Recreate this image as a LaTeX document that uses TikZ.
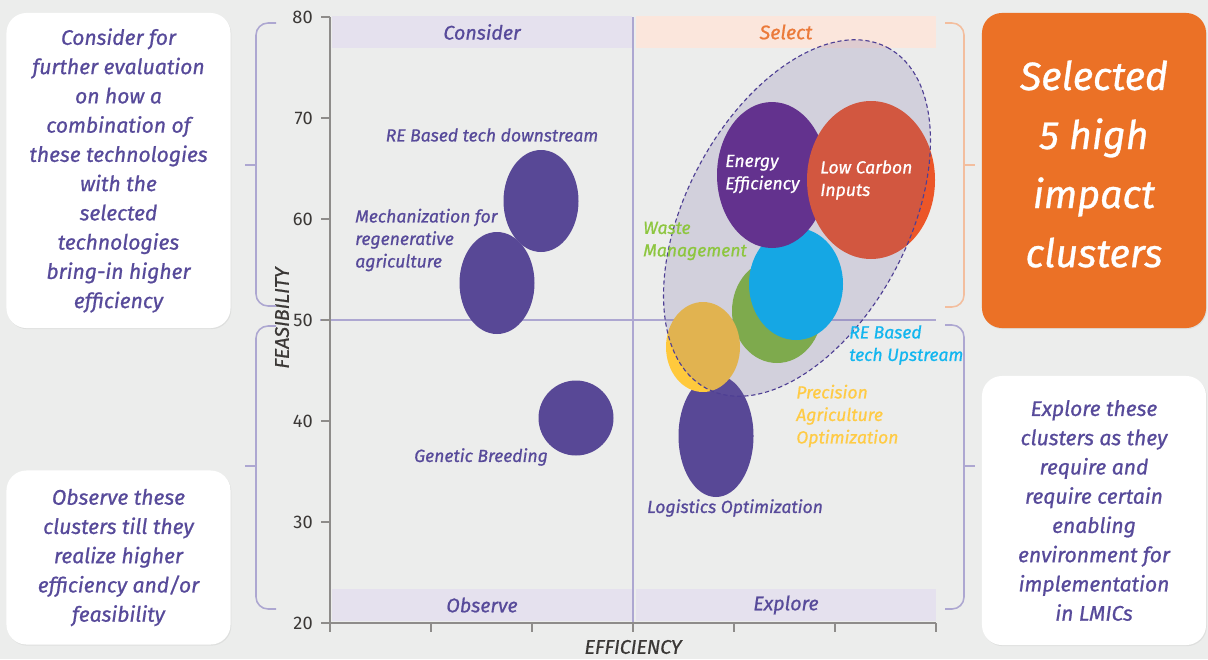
\documentclass[tikz,border=0pt]{standalone}
\usepackage{fontspec}
\setmainfont{Fira Sans}[ItalicFeatures={FakeBold=0.8}]
\usetikzlibrary{positioning, shadows}

\definecolor{bgGrey}{HTML}{ECEDEC}
\definecolor{txtPurple}{HTML}{574A9A}
\definecolor{bandLilac}{HTML}{E5E1EE}
\definecolor{bandPeach}{HTML}{FBE6DC}
\definecolor{axisGrey}{HTML}{8E8C8A}
\definecolor{midLilac}{HTML}{ADA7D1}
\definecolor{brOrange}{HTML}{F3BE9E}
\definecolor{boxOrange}{HTML}{EB7126}
\definecolor{selOrange}{HTML}{EB7A3A}
\definecolor{bubPurple}{HTML}{584896}
\definecolor{enPurple}{HTML}{62278A}
\definecolor{lcRed}{HTML}{EC5628}
\definecolor{reBlue}{HTML}{00BAF5}
\definecolor{wmGreen}{HTML}{84BD39}
\definecolor{paYellow}{HTML}{FFC93C}
\definecolor{labCyan}{HTML}{13B6EF}
\definecolor{labGreen}{HTML}{8DC63F}
\definecolor{labYellow}{HTML}{FFCB45}
\definecolor{ovLilac}{HTML}{6A5FA0}
\definecolor{dashPurple}{HTML}{4E3F94}
\definecolor{tickGrey}{HTML}{3B3836}

\begin{document}
\begin{tikzpicture}[x=0.025cm, y=-0.025cm,
    notebox/.style={fill=white, rounded corners=0.5cm, inner sep=0pt, align=center,
      minimum width=5.6cm, text=txtPurple, font=\fontsize{15}{20.8}\selectfont\itshape,
      drop shadow={shadow xshift=0.6pt, shadow yshift=-0.8pt, opacity=0.12}},
    band/.style={inner sep=0pt, minimum width=7.5cm, minimum height=0.78cm,
      font=\fontsize{14}{16}\selectfont\itshape},
    bublab/.style={inner sep=0pt, align=left, font=\fontsize{12.5}{16}\selectfont\itshape},
    ticklab/.style={anchor=east, inner sep=0pt, text=tickGrey, font=\fontsize{13}{15}\selectfont},
    axlab/.style={inner sep=0pt, text=tickGrey, font=\fontsize{14}{16}\selectfont\itshape},
    bracket/.style={line width=1.1pt, rounded corners=0.3cm}]

  \fill[bgGrey] (0,0) rectangle (1208,659);
  \useasboundingbox (0,0) rectangle (1208,659);

  % quadrant bands
  \node[band, fill=bandLilac, text=txtPurple] (consider) at (482,32) {Consider};
  \node[band, fill=bandPeach, text=selOrange] (select) at (786,32) {Select};
  \node[band, fill=bandLilac, text=txtPurple] (observe) at (482,605) {Observe};
  \node[band, fill=bandLilac, text=txtPurple] (explore) at (786,605) {Explore};

  % quadrant lines
  \draw[midLilac, line width=1.1pt] (633,17) -- (633,632);
  \draw[midLilac, line width=1.1pt] (320,320) -- (936,320);

  % axes
  \draw[axisGrey, line width=1.1pt] (330,17) -- (330,632);
  \draw[axisGrey, line width=1.1pt] (330,623) -- (936,623);
  \foreach \v in {80,70,...,20} {
    \pgfmathsetmacro{\yy}{17+(80-\v)*10.1}
    \draw[axisGrey, line width=1.1pt] (321,\yy) -- (330,\yy);
    \node[ticklab] (t\v) at (313,\yy) {\v};
  }
  \foreach \i in {1,...,6}
    \draw[axisGrey, line width=1.1pt] (330+\i*101,623) -- (330+\i*101,632);

  \node[axlab, rotate=90] (feas) at (282,318) {FEASIBILITY};
  \node[axlab] (effi) at (633,647) {EFFICIENCY};

  % bubbles outside the cluster
  \fill[bubPurple] (541,201) ellipse [x radius=37.5, y radius=51];
  \fill[bubPurple] (497,283) ellipse [x radius=37.5, y radius=51];
  \fill[bubPurple] (576,418) ellipse [x radius=37.5, y radius=37.5];
  \fill[bubPurple] (716,436) ellipse [x radius=37.5, y radius=61];

  % selected cluster
  \fill[wmGreen] (777,311) ellipse [x radius=45, y radius=52];
  \fill[reBlue] (796,284) ellipse [x radius=47, y radius=56];
  \fill[paYellow] (703,347) ellipse [x radius=37, y radius=45];
  \fill[enPurple] (772,175) ellipse [x radius=55, y radius=73];
  \fill[lcRed] (871,180) ellipse [x radius=64, y radius=79];
  \filldraw[fill=ovLilac, fill opacity=0.2, draw=dashPurple, line width=0.8pt,
    dash pattern=on 3pt off 2pt, rotate around={62:(797,218)}]
    (797,218) ellipse [x radius=193, y radius=111];

  % bubble labels
  \node[bublab, text=txtPurple] (redown) at (492,135) {RE Based tech downstream};
  \node[bublab, text=txtPurple, anchor=west] (mech) at (355,240) {Mechanization for\\regenerative\\agriculture};
  \node[bublab, text=txtPurple] (genetic) at (481,457) {Genetic Breeding};
  \node[bublab, text=txtPurple] (logist) at (735,508) {Logistics Optimization};
  \node[bublab, text=labYellow, anchor=west] (precis) at (796,416) {Precision\\Agriculture\\Optimization};
  \node[bublab, text=labCyan, anchor=west] (reup) at (849,345) {RE Based\\tech Upstream};
  \node[bublab, text=labGreen, anchor=west] (waste) at (643,241) {Waste\\Management};
  \node[bublab, text=white, anchor=west] (energy) at (725,174) {Energy\\Efficiency};
  \node[bublab, text=white, anchor=west] (lowcarb) at (820,180) {Low Carbon\\Inputs};

  % brackets
  \draw[bracket, midLilac] (276,23) -- (256,23) -- (256,306) -- (276,306);
  \draw[midLilac, line width=1.1pt] (256,165) -- (245,165);
  \draw[bracket, midLilac] (276,326) -- (256,326) -- (256,609) -- (276,609);
  \draw[midLilac, line width=1.1pt] (256,466) -- (245,466);
  \draw[bracket, brOrange] (945,23) -- (964,23) -- (964,307) -- (945,307);
  \draw[brOrange, line width=1.1pt] (964,165) -- (975,165);
  \draw[bracket, midLilac] (945,325) -- (964,325) -- (964,609) -- (945,609);
  \draw[midLilac, line width=1.1pt] (964,466) -- (975,466);

  % side notes
  \node[notebox, minimum height=7.875cm] (noteconsider) at (118.5,170.5)
    {Consider for\\further evaluation\\on how a\\combination of\\these technologies\\with the\\selected\\technologies\\bring-in higher\\efficiency};
  \node[notebox, minimum height=4.35cm] (noteobserve) at (118.5,557.5)
    {Observe these\\clusters till they\\realize higher\\efficiency and/or\\feasibility};
  \node[notebox, fill=boxOrange, minimum height=7.875cm] (noteselect) at (1094,170.5) {};
  \node[inner sep=0pt, align=center, text=white, font=\fontsize{28}{42}\selectfont\itshape]
    (selecttxt) at (1094,164) {Selected\\5 high\\impact\\clusters};
  \node[notebox, minimum height=6.725cm] (noteexplore) at (1094,510.5)
    {Explore these\\clusters as they\\require and\\require certain\\enabling\\environment for\\implementation\\in LMICs};

\end{tikzpicture}
\end{document}
